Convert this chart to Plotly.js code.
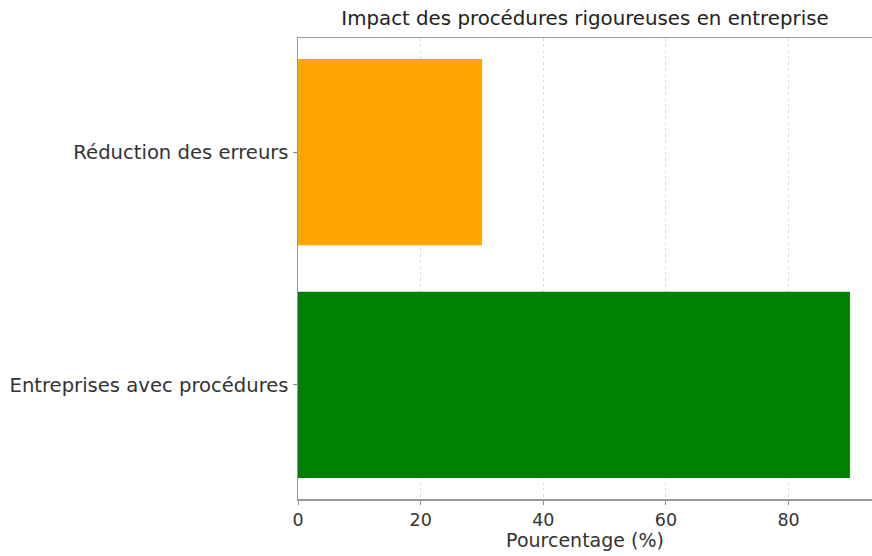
<!DOCTYPE html>
<html>
<head>
<meta charset="utf-8">
<script src="https://cdn.plot.ly/plotly-3.0.1.min.js"></script>
<style>html,body{margin:0;padding:0;background:#fff;}#chart{width:872px;height:556px;}</style>
</head>
<body>
<div id="chart"></div>
<script>
const categories = ["Entreprises avec procédures", "Réduction des erreurs"];
const values = [90, 30];
const colors = ["#008000", "#FFA500"];
const xTicks = [0, 20, 40, 60, 80];

const trace = {
  type: "bar",
  orientation: "h",
  y: categories,
  x: values,
  width: 0.8,
  marker: {color: colors},
  hoverinfo: "x+y"
};

const layout = {
  width: 872,
  height: 556,
  margin: {l: 298, r: 0, t: 38, b: 57},
  paper_bgcolor: "#fff",
  plot_bgcolor: "#fff",
  font: {family: "'DejaVu Sans', sans-serif", color: "#333", size: 17},
  title: {text: "Impact des procédures rigoureuses en entreprise", x: 0.5, xref: "paper", y: 0.967, yanchor: "middle", font: {size: 19.8, color: "#222"}},
  showlegend: false,
  bargap: 0.2,
  xaxis: {
    range: [0, 93.6],
    tickvals: xTicks,
    ticktext: xTicks.map(String),
    ticks: "outside", ticklen: 4, tickcolor: "#888",
    showgrid: true, gridcolor: "#dcdcdc", griddash: "dot", gridwidth: 1,
    showline: true, linecolor: "#999", linewidth: 1.5, mirror: true,
    zeroline: false,
    tickfont: {size: 17.5, color: "#333"},
    title: {text: "Pourcentage (%)", font: {size: 19, color: "#333"}, standoff: 4}
  },
  yaxis: {
    type: "category",
    categoryorder: "array",
    categoryarray: categories,
    range: [-0.49, 1.49],
    ticks: "outside", ticklen: 4, tickcolor: "#888",
    showgrid: false,
    showline: true, linecolor: "#999", linewidth: 1.5, mirror: true,
    zeroline: false,
    tickfont: {size: 19.6, color: "#333"}
  }
};

Plotly.newPlot("chart", [trace], layout, {displayModeBar: false, staticPlot: true});
</script>
</body>
</html>
